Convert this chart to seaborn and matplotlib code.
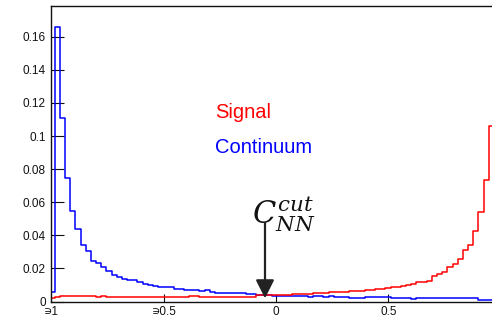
import numpy as np
import pandas as pd
import matplotlib
matplotlib.use("Agg")
import matplotlib.pyplot as plt
from matplotlib.ticker import MultipleLocator
import seaborn as sns

# ---- data ----
bin_lo = -1.008
bin_w = 0.023

continuum = [
    0.0060, 0.1657, 0.1110, 0.0744, 0.0548, 0.0438, 0.0341, 0.0307, 0.0246, 0.0231,
    0.0208, 0.0185, 0.0160, 0.0150, 0.0136, 0.0132, 0.0130, 0.0120, 0.0106, 0.0102,
    0.0094, 0.0086, 0.0090, 0.0085, 0.0077, 0.0076, 0.0072, 0.0072, 0.0071, 0.0064,
    0.0068, 0.0057, 0.0053, 0.0052, 0.0051, 0.0050, 0.0050, 0.0049, 0.0048, 0.0045,
    0.0040, 0.0039, 0.0038, 0.0036, 0.0036, 0.0035, 0.0035, 0.0035, 0.0035, 0.0034,
    0.0029, 0.0035, 0.0035, 0.0028, 0.0035, 0.0030, 0.0030, 0.0030, 0.0023, 0.0023,
    0.0024, 0.0025, 0.0027, 0.0026, 0.0028, 0.0028, 0.0023, 0.0023, 0.0023, 0.0023,
    0.0018, 0.0022, 0.0023, 0.0022, 0.0023, 0.0022, 0.0021, 0.0021, 0.0021, 0.0020,
    0.0020, 0.0020, 0.0023, 0.0010, 0.0009, 0.0008,
]

signal = [
    0.0019, 0.0029, 0.0031, 0.0033, 0.0033, 0.0033, 0.0033, 0.0033, 0.0031, 0.0029,
    0.0033, 0.0029, 0.0028, 0.0027, 0.0027, 0.0027, 0.0027, 0.0028, 0.0027, 0.0027,
    0.0027, 0.0027, 0.0027, 0.0027, 0.0027, 0.0027, 0.0027, 0.0031, 0.0031, 0.0025,
    0.0025, 0.0029, 0.0029, 0.0029, 0.0029, 0.0029, 0.0029, 0.0029, 0.0029, 0.0029,
    0.0039, 0.0039, 0.0039, 0.0039, 0.0041, 0.0041, 0.0041, 0.0044, 0.0045, 0.0046,
    0.0047, 0.0050, 0.0053, 0.0053, 0.0055, 0.0057, 0.0059, 0.0059, 0.0061, 0.0063,
    0.0065, 0.0068, 0.0071, 0.0074, 0.0078, 0.0082, 0.0086, 0.0089, 0.0094, 0.0100,
    0.0106, 0.0118, 0.0120, 0.0126, 0.0152, 0.0165, 0.0180, 0.0210, 0.0226, 0.0255,
    0.0309, 0.0341, 0.0429, 0.0543, 0.0734, 0.1062,
]

x_ticks = [-1, -0.5, 0, 0.5]
x_tick_labels = ["\u220d1", "\u220d0.5", "0", "0.5"]
y_ticks = [0, 0.02, 0.04, 0.06, 0.08, 0.1, 0.12, 0.14, 0.16]
y_tick_labels = ["0", "0.02", "0.04", "0.06", "0.08", "0.1", "0.12", "0.14", "0.16"]

series_names = ["Signal", "Continuum"]
series_colors = {"Signal": "#ff0000", "Continuum": "#0000ff"}

nn_cut = -0.049

# ---- build table ----
n = len(continuum)
edges = [bin_lo + bin_w * i for i in range(n + 1)]
centers = [0.5 * (edges[i] + edges[i + 1]) for i in range(n)]
df = pd.concat([
    pd.DataFrame({"x": centers, "w": continuum, "sample": "Continuum"}),
    pd.DataFrame({"x": centers, "w": signal, "sample": "Signal"}),
], ignore_index=True)

sns.set_style("white")
plt.rcParams["font.family"] = ["Liberation Sans", "DejaVu Sans"]
plt.rcParams["mathtext.fontset"] = "dejavuserif"

fig = plt.figure(figsize=(4.92, 3.21), dpi=100)
ax = fig.add_axes([51.4 / 492, 19.5 / 321, 1 - 51.4 / 492, (301.5 - 6) / 321])

for name in ["Continuum", "Signal"]:
    sub = df[df["sample"] == name]
    sns.histplot(data=sub, x="x", weights="w", bins=edges, element="step",
                 fill=False, color=series_colors[name], linewidth=1.1, ax=ax)

ax.set_xlim(-1.0, 0.9617)
ax.set_ylim(0, 0.1786)
ax.set_xlabel("")
ax.set_ylabel("")

ax.set_xticks(x_ticks)
ax.set_xticklabels(x_tick_labels)
ax.set_yticks(y_ticks)
ax.set_yticklabels(y_tick_labels)
ax.xaxis.set_minor_locator(MultipleLocator(0.1))
ax.yaxis.set_minor_locator(MultipleLocator(0.005))

ax.tick_params(axis="y", which="major", direction="in", length=9.4, width=0.8,
               labelsize=8.5, pad=4, colors="#111111")
ax.tick_params(axis="y", which="minor", direction="in", length=4.3, width=0.8,
               colors="#111111")
ax.tick_params(axis="x", which="major", direction="in", length=5.5, width=0.8,
               labelsize=8.5, pad=3.5, colors="#111111")
ax.tick_params(axis="x", which="minor", direction="in", length=3.0, width=0.8,
               colors="#111111")
ax.tick_params(left=True, bottom=True, top=False, right=False)

for s in ["left", "bottom", "top"]:
    ax.spines[s].set_visible(True)
    ax.spines[s].set_color("#111111")
    ax.spines[s].set_linewidth(1.0)
ax.spines["right"].set_visible(False)

ax.text(-0.272, 0.1107, series_names[0], color=series_colors["Signal"],
        fontsize=14.5, ha="left", va="baseline")
ax.text(-0.272, 0.0895, series_names[1], color=series_colors["Continuum"],
        fontsize=14.5, ha="left", va="baseline")

ax.text(-0.108, 0.0473, r"$C_{NN}^{cut}$", fontsize=22, ha="left",
        va="baseline", color="#111111")

ax.annotate("", xy=(nn_cut, 0.0019), xytext=(nn_cut, 0.0474),
            arrowprops=dict(arrowstyle="-|>,head_length=0.4,head_width=0.2",
                            color="#222222", lw=1.6, mutation_scale=28,
                            shrinkA=0, shrinkB=0))

fig.savefig("out.png", dpi=100)
